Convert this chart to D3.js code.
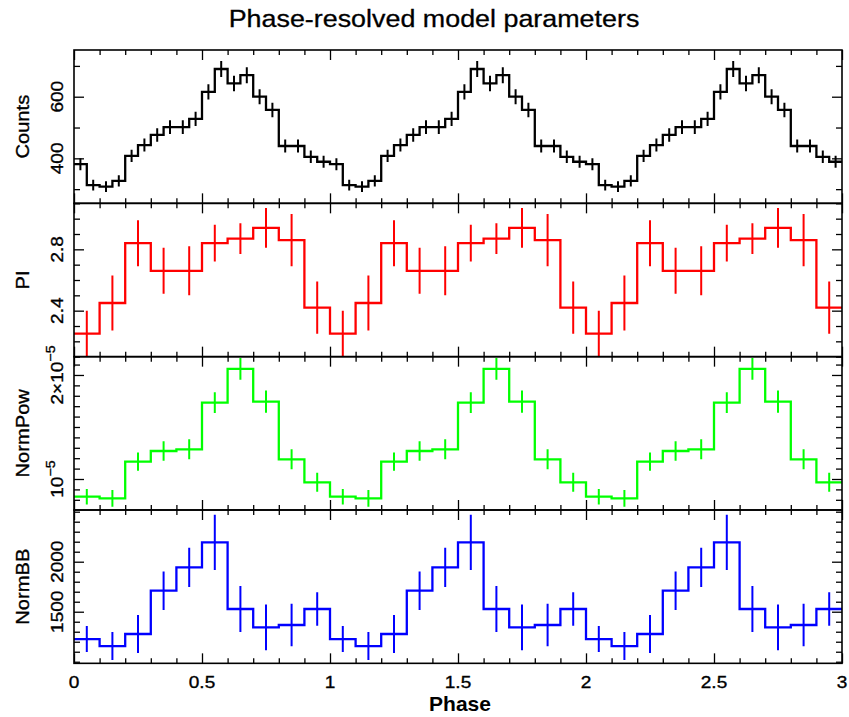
<!DOCTYPE html>
<html><head><meta charset="utf-8">
<script src="https://cdn.jsdelivr.net/npm/d3@7/dist/d3.min.js"></script>
<style>body{margin:0;background:#fff}</style>
</head><body><svg id="c" width="849" height="717"></svg>
<script>
// ---- data (one phase cycle, plotted over three cycles) ----
const phaseCycles = [0, 1, 2];
const countsBinWidth = 0.05;
const paramBinWidth = 0.1;

const counts    = [381, 313, 308, 327, 408, 443, 476, 501, 501, 528, 616, 690, 643, 670, 600, 557, 440, 440, 405, 389];
const countsErr = [19.5, 17.7, 17.5, 18.1, 20.2, 21, 21.8, 22.4, 22.4, 23, 24.8, 26.3, 25.4, 25.9, 24.5, 23.6, 21, 21, 20.1, 19.7];

const piValues = [2.25, 2.45, 2.84, 2.66, 2.66, 2.84, 2.87, 2.94, 2.86, 2.42];
const piErr    = [0.15, 0.18, 0.15, 0.15, 0.16, 0.12, 0.10, 0.13, 0.17, 0.17];

const normPow    = [0.830e-5, 0.814e-5, 1.167e-5, 1.269e-5, 1.285e-5, 1.734e-5, 2.058e-5, 1.744e-5, 1.189e-5, 0.968e-5];
const normPowErr = [0.075e-5, 0.080e-5, 0.088e-5, 0.093e-5, 0.096e-5, 0.100e-5, 0.104e-5, 0.106e-5, 0.096e-5, 0.091e-5];

const normBB    = [1227, 1157, 1277, 1710, 1943, 2193, 1527, 1343, 1367, 1527];
const normBBErr = [130, 140, 190, 193, 197, 277, 230, 228, 212, 168];

const xTickValues = [0, 0.5, 1, 1.5, 2, 2.5, 3];
const xTickLabels = ["0", "0.5", "1", "1.5", "2", "2.5", "3"];
const panelNames  = ["Counts", "PI", "NormPow", "NormBB"];
const panelColors = ["#000000", "#ff0000", "#00ff00", "#0000ff"];
const yDomains    = [[254, 751.6], [2.1, 3.1], [0.702e-5, 2.176e-5], [984, 2517]];
const yMajorTicks = [[400, 600], [2.4, 2.8], [1e-5, 2e-5], [1500, 2000]];
const yMinorStep  = [100, 0.1, 1e-6, 100];
const yTickLabels = [
  [["400"], ["600"]],
  [["2.4"], ["2.8"]],
  [["10", "\u22125"], ["2\u00d710", "\u22125"]],
  [["1500"], ["2000"]]
];
const titleText = "Phase-resolved model parameters";
const xTitle = "Phase";

// ---- layout ----
const W = 849, H = 717;
const plotL = 74, plotR = 842, plotT = 50, plotB = 663.33;
const panelH = (plotB - plotT) / 4;
const SX = 1.12;
const FONT = "'Liberation Sans', Arial, Helvetica, sans-serif";

const svg = d3.select("#c");
svg.append("rect").attr("width", W).attr("height", H).attr("fill", "#fff");

const x = d3.scaleLinear().domain([0, 3]).range([plotL, plotR]);

function txt(g, px, py, rot, parts, size, opt = {}) {
  const t = g.append("text")
    .attr("transform", `translate(${px},${py}) rotate(${rot}) scale(${opt.sx || SX},1)`)
    .attr("text-anchor", opt.anchor || "middle")
    .attr("font-family", FONT)
    .attr("font-size", size)
    .attr("font-weight", opt.weight || "normal")
    .attr("fill", "#000")
    .attr("stroke", "#000")
    .attr("stroke-width", opt.sw === undefined ? 0.35 : opt.sw);
  t.append("tspan").text(parts[0]);
  if (parts.length > 1) {
    t.append("tspan").attr("dy", -size * 0.45).attr("font-size", size * 0.75).text(parts[1]);
  }
  return t;
}

function binsFor(values, errs, width) {
  const out = [];
  phaseCycles.forEach(c => {
    values.forEach((v, i) => {
      const x0 = c + i * width;
      out.push({ x0, x1: x0 + width, xc: x0 + width / 2, v, e: errs[i] });
    });
  });
  return out;
}

const series = [
  binsFor(counts, countsErr, countsBinWidth),
  binsFor(piValues, piErr, paramBinWidth),
  binsFor(normPow, normPowErr, paramBinWidth),
  binsFor(normBB, normBBErr, paramBinWidth)
];

const xMinor = d3.range(0, 31).map(i => i / 10);
const xMajorSet = new Set(xTickValues.map(v => v.toFixed(2)));

series.forEach((data, p) => {
  const pTop = plotT + p * panelH, pBot = pTop + panelH;
  const y = d3.scaleLinear().domain(yDomains[p]).range([pBot, pTop]);
  const g = svg.append("g");

  const clipId = "clip" + p;
  svg.append("clipPath").attr("id", clipId)
    .append("rect").attr("x", plotL).attr("y", pTop).attr("width", plotR - plotL).attr("height", panelH);

  const dg = g.append("g").attr("clip-path", `url(#${clipId})`);
  const pts = data.map(d => [d.x0, d.v]);
  pts.push([data[data.length - 1].x1, data[data.length - 1].v]);
  const line = d3.line().x(d => x(d[0])).y(d => y(d[1])).curve(d3.curveStepAfter);
  dg.append("path").attr("d", line(pts)).attr("fill", "none")
    .attr("stroke", panelColors[p]).attr("stroke-width", 2.3).attr("stroke-linejoin", "miter");
  dg.selectAll("line.err").data(data).enter().append("line")
    .attr("x1", d => x(d.xc)).attr("x2", d => x(d.xc))
    .attr("y1", d => y(d.v - d.e)).attr("y2", d => y(d.v + d.e))
    .attr("stroke", panelColors[p]).attr("stroke-width", 2);

  const [d0, d1] = yDomains[p];
  const step = yMinorStep[p];
  const minor = d3.range(Math.ceil(d0 / step - 1e-9), Math.floor(d1 / step + 1e-9) + 1).map(k => k * step);
  const isMajor = v => yMajorTicks[p].some(m => Math.abs(m - v) < step * 1e-3);
  const yMinor = minor.filter(v => !isMajor(v));
  const axStyle = sel => { sel.select(".domain").remove(); sel.selectAll("line").attr("stroke", "#000").attr("stroke-width", 1.3); };
  g.append("g").attr("transform", `translate(${plotL},0)`)
    .call(d3.axisLeft(y).tickValues(yMinor).tickSize(-6).tickFormat("")).call(axStyle);
  g.append("g").attr("transform", `translate(${plotL},0)`)
    .call(d3.axisLeft(y).tickValues(yMajorTicks[p]).tickSize(-10).tickFormat("")).call(axStyle);
  g.append("g").attr("transform", `translate(${plotR},0)`)
    .call(d3.axisRight(y).tickValues(yMinor).tickSize(-6).tickFormat("")).call(axStyle);
  g.append("g").attr("transform", `translate(${plotR},0)`)
    .call(d3.axisRight(y).tickValues(yMajorTicks[p]).tickSize(-10).tickFormat("")).call(axStyle);

  const xm = xMinor.filter(v => !xMajorSet.has(v.toFixed(2)));
  g.append("g").attr("transform", `translate(0,${pTop})`)
    .call(d3.axisBottom(x).tickValues(xm).tickSize(5).tickFormat("")).call(axStyle);
  g.append("g").attr("transform", `translate(0,${pTop})`)
    .call(d3.axisBottom(x).tickValues(xTickValues).tickSize(10).tickFormat("")).call(axStyle);
  g.append("g").attr("transform", `translate(0,${pBot})`)
    .call(d3.axisTop(x).tickValues(xm).tickSize(5).tickFormat("")).call(axStyle);
  g.append("g").attr("transform", `translate(0,${pBot})`)
    .call(d3.axisTop(x).tickValues(xTickValues).tickSize(10).tickFormat("")).call(axStyle);

  g.append("rect").attr("x", plotL).attr("y", pTop).attr("width", plotR - plotL).attr("height", panelH)
    .attr("fill", "none").attr("stroke", "#000").attr("stroke-width", 1.6);

  yMajorTicks[p].forEach((v, i) => txt(svg, 63, y(v), -90, yTickLabels[p][i], 17));
  txt(svg, 28.5, (pTop + pBot) / 2, -90, [panelNames[p]], 18);
});

xTickValues.forEach((v, i) => txt(svg, x(v), 687.5, 0, [xTickLabels[i]], 17));
txt(svg, 460, 711, 0, [xTitle], 21, { weight: "bold", sx: 1.0, sw: 0 });
txt(svg, 434, 27, 0, [titleText], 24, { sw: 0.3 });
</script></body></html>
